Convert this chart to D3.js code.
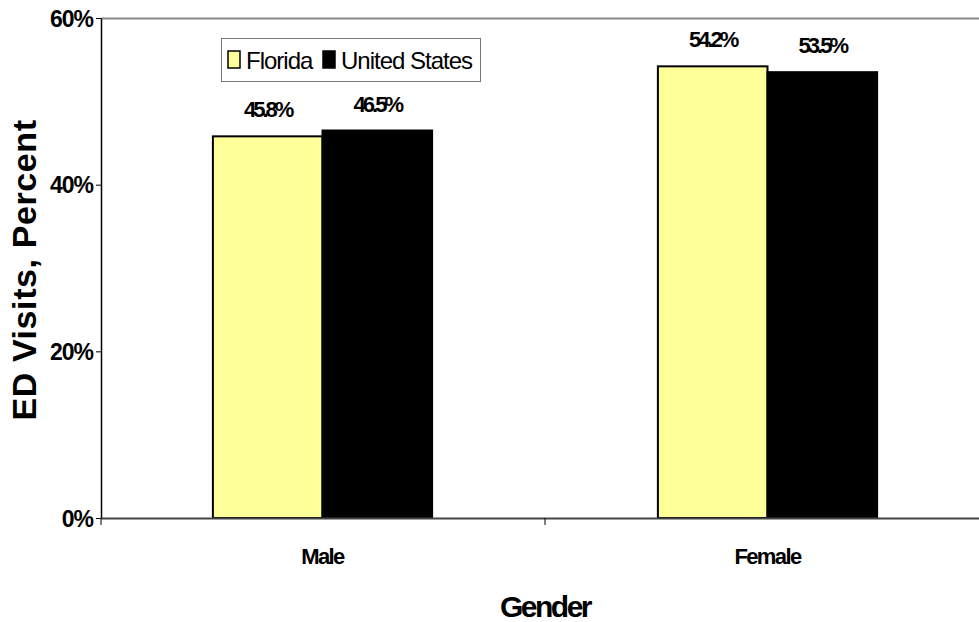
<!DOCTYPE html>
<html>
<head>
<meta charset="utf-8">
<script src="https://cdn.jsdelivr.net/npm/d3@7"></script>
<style>
  html, body { margin: 0; padding: 0; background: #fff; }
  svg { display: block; font-family: "Liberation Sans", Arial, sans-serif; }
</style>
</head>
<body>
<svg id="chart" width="979" height="622"></svg>
<script>
// ED visits by gender, Florida vs United States
const categories = ["Male", "Female"];
const seriesNames = ["Florida", "United States"];
const florida = [45.8, 54.2];
const unitedStates = [46.5, 53.5];
const yTicks = [0, 20, 40, 60];
const seriesColors = ["#FFFF99", "#000000"];

const svg = d3.select("#chart");
const plot = { left: 101, top: 18, right: 990, bottom: 518 };

const x = d3.scaleBand().domain(categories).range([plot.left - 1, plot.right]).paddingInner(0).paddingOuter(0);
const inner = d3.scaleBand().domain(seriesNames).range([0, x.bandwidth()]).paddingInner(0).paddingOuter(1.03);
const y = d3.scaleLinear().domain([0, 60]).range([plot.bottom, plot.top]);

const rows = categories.map((c, i) => ({ cat: c, values: [florida[i], unitedStates[i]] }));

// top frame line
svg.append("line")
  .attr("x1", plot.left).attr("x2", 979)
  .attr("y1", y(60) + 0.5).attr("y2", y(60) + 0.5)
  .attr("stroke", "#8a8a8a").attr("stroke-width", 2);

// bars
const groups = svg.append("g").selectAll("g").data(rows).join("g")
  .attr("transform", d => `translate(${x(d.cat)},0)`);

groups.selectAll("rect").data(d => d.values.map((v, j) => ({ v, s: seriesNames[j], j })))
  .join("rect")
  .attr("x", d => inner(d.s))
  .attr("width", inner.bandwidth())
  .attr("y", d => y(d.v))
  .attr("height", d => y(0) - y(d.v))
  .attr("fill", d => seriesColors[d.j])
  .attr("stroke", "#000")
  .attr("stroke-width", 2);

// value labels
groups.selectAll("text").data(d => d.values.map((v, j) => ({ v, s: seriesNames[j] })))
  .join("text")
  .attr("x", d => inner(d.s) + inner.bandwidth() / 2)
  .attr("y", d => y(d.v) - 19)
  .attr("text-anchor", "middle")
  .attr("font-size", 22)
  .attr("font-weight", "bold")
  .attr("letter-spacing", -3)
  .text(d => d.v.toFixed(1) + "%");

// y axis
const yAxis = svg.append("g")
  .attr("transform", `translate(${plot.left},0)`)
  .call(d3.axisLeft(y).tickValues(yTicks).tickFormat(d => d + "%").tickSize(5).tickSizeOuter(0));
yAxis.attr("font-size", 23).attr("font-family", null);
yAxis.select(".domain").attr("stroke", "#000").attr("stroke-width", 1.5);
yAxis.selectAll(".tick line").attr("stroke", "#000");
yAxis.selectAll(".tick text")
  .attr("font-size", 23).attr("font-weight", "bold").attr("letter-spacing", -1)
  .attr("fill", "#000").attr("x", -8).attr("dy", "0.35em");

// x axis baseline
svg.append("line")
  .attr("x1", plot.left).attr("x2", 979)
  .attr("y1", y(0) + 0.5).attr("y2", y(0) + 0.5)
  .attr("stroke", "#444").attr("stroke-width", 2);

// category boundary ticks
const bounds = [plot.left, x(categories[1])];
svg.append("g").selectAll("line").data(bounds).join("line")
  .attr("x1", d => d).attr("x2", d => d)
  .attr("y1", y(0)).attr("y2", y(0) + 7)
  .attr("stroke", "#000").attr("stroke-width", 1);

// category labels
svg.append("g").selectAll("text").data(categories).join("text")
  .attr("x", d => x(d) + x.bandwidth() / 2)
  .attr("y", 564)
  .attr("text-anchor", "middle")
  .attr("font-size", 22).attr("font-weight", "bold").attr("letter-spacing", -1.6)
  .text(d => d);

// axis titles
svg.append("text")
  .attr("x", 545).attr("y", 617)
  .attr("text-anchor", "middle")
  .attr("font-size", 30).attr("font-weight", "bold").attr("letter-spacing", -2.5)
  .text("Gender");

svg.append("text")
  .attr("transform", "translate(36,270) rotate(-90)")
  .attr("text-anchor", "middle")
  .attr("font-size", 34).attr("font-weight", "bold").attr("letter-spacing", 0.6)
  .text("ED Visits, Percent");

// legend
const legend = svg.append("g").attr("transform", "translate(221,38)");
legend.append("rect")
  .attr("x", 0.5).attr("y", 0.5).attr("width", 259).attr("height", 43)
  .attr("fill", "#fff").attr("stroke", "#777").attr("stroke-width", 1);
const legendX = [7, 102];
const items = legend.selectAll("g").data(seriesNames).join("g")
  .attr("transform", (d, i) => `translate(${legendX[i]},0)`);
items.append("rect")
  .attr("x", 0).attr("y", 13).attr("width", 12).attr("height", 17)
  .attr("fill", (d, i) => seriesColors[i]).attr("stroke", "#000").attr("stroke-width", 1.5);
items.append("text")
  .attr("x", 18).attr("y", 31)
  .attr("font-size", 24).attr("letter-spacing", -1)
  .text(d => d);
</script>
</body>
</html>
